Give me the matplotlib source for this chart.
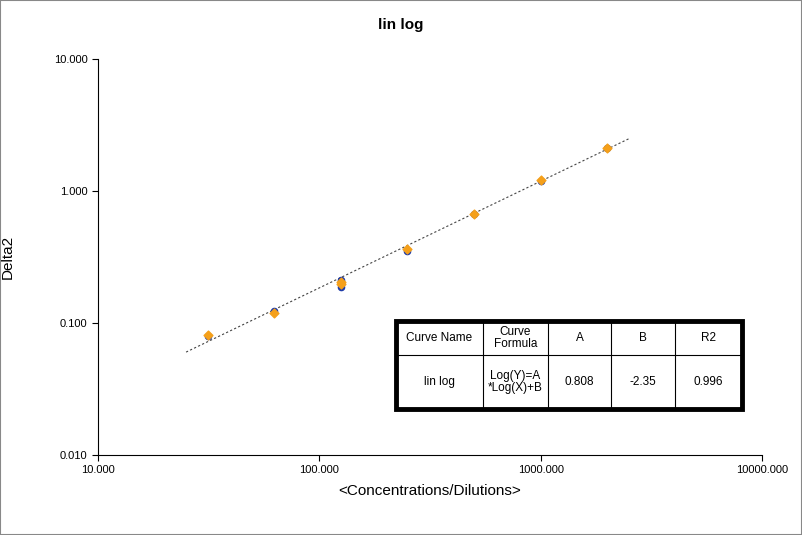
import matplotlib
matplotlib.use("Agg")
import matplotlib.pyplot as plt
import numpy as np
from matplotlib.patches import Rectangle
from matplotlib.lines import Line2D

plt.rcParams['font.family'] = ['Liberation Sans', 'DejaVu Sans']

x = [31.25, 62.5, 125, 125, 250, 500, 1000, 2000]
y_blue = [0.080, 0.123, 0.188, 0.212, 0.352, 0.668, 1.19, 2.10]
y_orange = [0.081, 0.119, 0.196, 0.204, 0.362, 0.675, 1.21, 2.12]
A, B = 0.808, -2.35
fit_range = [25, 2500]
col_labels = ["Curve Name", "Curve\nFormula", "A", "B", "R2"]
row = ["lin log", "Log(Y)=A\n*Log(X)+B", "0.808", "-2.35", "0.996"]

fig = plt.figure(figsize=(8.02, 5.35), dpi=100)
ax = fig.add_axes([98/802, 1-455/535, 664/802, 396/535])
xf = np.logspace(np.log10(fit_range[0]), np.log10(fit_range[1]), 50)
ax.plot(xf, 10**B * xf**A, ls=(0, (2, 2)), color="#444444", lw=0.8)
ax.scatter(np.array(x)*1.0, y_blue, s=20, color="#1f3ca8", zorder=3)
ax.scatter(x, y_orange, s=20, color="#f5a01a", zorder=4, marker="D")
ax.set_xscale("log"); ax.set_yscale("log")
ax.set_xlim(10, 10000); ax.set_ylim(0.01, 10)
ax.set_xticks([10, 100, 1000, 10000])
ax.set_xticklabels(["10.000", "100.000", "1000.000", "10000.000"], fontsize=8)
ax.set_yticks([0.01, 0.1, 1, 10])
ax.set_yticklabels(["0.010", "0.100", "1.000", "10.000"], fontsize=8)
ax.minorticks_off()
for s in ["top", "right"]:
    ax.spines[s].set_visible(False)
ax.tick_params(length=4, direction="out")
ax.set_xlabel("<Concentrations/Dilutions>", fontsize=11, labelpad=6)
ax.set_ylabel("Delta2", fontsize=11, labelpad=28)
fig.text(0.5, 1-25/535, "lin log", ha="center", va="center", fontsize=11, fontweight="bold")

# table drawn in pixel coordinates
X0, X1, Y0, Y1, YM = 396, 742, 321, 409, 355
cols = [396, 483, 548, 611, 675, 742]
def fx(p): return p/802
def fy(p): return 1-p/535
for c in cols[1:-1]:
    fig.add_artist(Line2D([fx(c), fx(c)], [fy(Y0), fy(Y1)], color="black", lw=0.8))
fig.add_artist(Line2D([fx(X0), fx(X1)], [fy(YM), fy(YM)], color="black", lw=0.8))
for i in range(5):
    cx = fx((cols[i]+cols[i+1])/2)
    fig.text(cx, fy((Y0+YM)/2), col_labels[i], ha="center", va="center", fontsize=8.5, linespacing=1.1)
    fig.text(cx, fy((YM+Y1)/2), row[i], ha="center", va="center", fontsize=8.5, linespacing=1.1)
fig.add_artist(Rectangle((fx(X0), fy(Y1)), (X1-X0)/802, (Y1-Y0)/535, transform=fig.transFigure,
                         fill=False, lw=3.5, ec="black", zorder=10))
fig.add_artist(Rectangle((0, 0), 1, 1, transform=fig.transFigure, fill=False, lw=1.5, ec="#888888"))
fig.savefig("out.png", dpi=100)
